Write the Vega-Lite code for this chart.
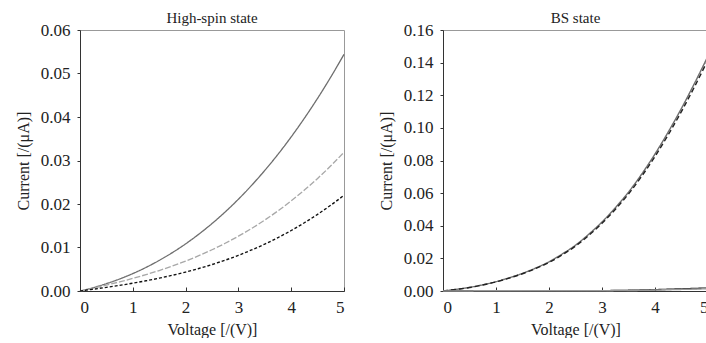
{
  "$schema": "https://vega.github.io/schema/vega-lite/v6.json",
  "background": "white",
  "padding": {"left": 14, "top": 10, "right": 0, "bottom": 0},
  "spacing": 29,
  "config": {
    "font": "Liberation Serif",
    "view": {"stroke": "#999", "strokeWidth": 1},
    "axis": {
      "grid": false,
      "domainColor": "#333",
      "tickColor": "#333",
      "labelFont": "Liberation Serif",
      "labelFontSize": 17,
      "labelColor": "#222",
      "titleFont": "Liberation Serif",
      "titleFontSize": 16,
      "titleFontWeight": "normal",
      "titleColor": "#222"
    },
    "axisY": {"tickSize": 3, "labelPadding": 7, "titlePadding": 9},
    "axisX": {"tickSize": -4, "labelPadding": 12, "titlePadding": 6},
    "title": {"font": "Liberation Serif", "fontSize": 15, "fontWeight": "normal", "color": "#222", "offset": -5, "frame": "group"}
  },
  "data": {"values": [
    {"panel": "HS", "series": "a", "V": 0, "I": 0},
    {"panel": "HS", "series": "a", "V": 0.25, "I": 0.00077},
    {"panel": "HS", "series": "a", "V": 0.5, "I": 0.00169},
    {"panel": "HS", "series": "a", "V": 0.75, "I": 0.00276},
    {"panel": "HS", "series": "a", "V": 1, "I": 0.0040},
    {"panel": "HS", "series": "a", "V": 1.25, "I": 0.00542},
    {"panel": "HS", "series": "a", "V": 1.5, "I": 0.00703},
    {"panel": "HS", "series": "a", "V": 1.75, "I": 0.00883},
    {"panel": "HS", "series": "a", "V": 2, "I": 0.01083},
    {"panel": "HS", "series": "a", "V": 2.25, "I": 0.01306},
    {"panel": "HS", "series": "a", "V": 2.5, "I": 0.0155},
    {"panel": "HS", "series": "a", "V": 2.75, "I": 0.01818},
    {"panel": "HS", "series": "a", "V": 3, "I": 0.0211},
    {"panel": "HS", "series": "a", "V": 3.25, "I": 0.02428},
    {"panel": "HS", "series": "a", "V": 3.5, "I": 0.02772},
    {"panel": "HS", "series": "a", "V": 3.75, "I": 0.03143},
    {"panel": "HS", "series": "a", "V": 4, "I": 0.03543},
    {"panel": "HS", "series": "a", "V": 4.25, "I": 0.03972},
    {"panel": "HS", "series": "a", "V": 4.5, "I": 0.0443},
    {"panel": "HS", "series": "a", "V": 4.75, "I": 0.04919},
    {"panel": "HS", "series": "a", "V": 5, "I": 0.0544},
    {"panel": "HS", "series": "b", "V": 0, "I": 0},
    {"panel": "HS", "series": "b", "V": 0.25, "I": 0.00066},
    {"panel": "HS", "series": "b", "V": 0.5, "I": 0.00136},
    {"panel": "HS", "series": "b", "V": 0.75, "I": 0.0021},
    {"panel": "HS", "series": "b", "V": 1, "I": 0.0029},
    {"panel": "HS", "series": "b", "V": 1.25, "I": 0.00377},
    {"panel": "HS", "series": "b", "V": 1.5, "I": 0.00471},
    {"panel": "HS", "series": "b", "V": 1.75, "I": 0.00575},
    {"panel": "HS", "series": "b", "V": 2, "I": 0.00688},
    {"panel": "HS", "series": "b", "V": 2.25, "I": 0.00812},
    {"panel": "HS", "series": "b", "V": 2.5, "I": 0.00948},
    {"panel": "HS", "series": "b", "V": 2.75, "I": 0.01097},
    {"panel": "HS", "series": "b", "V": 3, "I": 0.0126},
    {"panel": "HS", "series": "b", "V": 3.25, "I": 0.01438},
    {"panel": "HS", "series": "b", "V": 3.5, "I": 0.01632},
    {"panel": "HS", "series": "b", "V": 3.75, "I": 0.01843},
    {"panel": "HS", "series": "b", "V": 4, "I": 0.02072},
    {"panel": "HS", "series": "b", "V": 4.25, "I": 0.0232},
    {"panel": "HS", "series": "b", "V": 4.5, "I": 0.02588},
    {"panel": "HS", "series": "b", "V": 4.75, "I": 0.02878},
    {"panel": "HS", "series": "b", "V": 5, "I": 0.0319},
    {"panel": "HS", "series": "c", "V": 0, "I": 0},
    {"panel": "HS", "series": "c", "V": 0.25, "I": 0.00041},
    {"panel": "HS", "series": "c", "V": 0.5, "I": 0.00084},
    {"panel": "HS", "series": "c", "V": 0.75, "I": 0.0013},
    {"panel": "HS", "series": "c", "V": 1, "I": 0.0018},
    {"panel": "HS", "series": "c", "V": 1.25, "I": 0.00235},
    {"panel": "HS", "series": "c", "V": 1.5, "I": 0.00295},
    {"panel": "HS", "series": "c", "V": 1.75, "I": 0.00362},
    {"panel": "HS", "series": "c", "V": 2, "I": 0.00435},
    {"panel": "HS", "series": "c", "V": 2.25, "I": 0.00517},
    {"panel": "HS", "series": "c", "V": 2.5, "I": 0.00608},
    {"panel": "HS", "series": "c", "V": 2.75, "I": 0.00709},
    {"panel": "HS", "series": "c", "V": 3, "I": 0.0082},
    {"panel": "HS", "series": "c", "V": 3.25, "I": 0.00944},
    {"panel": "HS", "series": "c", "V": 3.5, "I": 0.01079},
    {"panel": "HS", "series": "c", "V": 3.75, "I": 0.01228},
    {"panel": "HS", "series": "c", "V": 4, "I": 0.01391},
    {"panel": "HS", "series": "c", "V": 4.25, "I": 0.01569},
    {"panel": "HS", "series": "c", "V": 4.5, "I": 0.01763},
    {"panel": "HS", "series": "c", "V": 4.75, "I": 0.01973},
    {"panel": "HS", "series": "c", "V": 5, "I": 0.0220},
    {"panel": "BS", "series": "d", "V": 0, "I": 0},
    {"panel": "BS", "series": "d", "V": 0.25, "I": 0.0010},
    {"panel": "BS", "series": "d", "V": 0.5, "I": 0.0022},
    {"panel": "BS", "series": "d", "V": 0.75, "I": 0.0038},
    {"panel": "BS", "series": "d", "V": 1, "I": 0.0057},
    {"panel": "BS", "series": "d", "V": 1.25, "I": 0.0081},
    {"panel": "BS", "series": "d", "V": 1.5, "I": 0.0108},
    {"panel": "BS", "series": "d", "V": 1.75, "I": 0.0141},
    {"panel": "BS", "series": "d", "V": 2, "I": 0.0179},
    {"panel": "BS", "series": "d", "V": 2.25, "I": 0.0227},
    {"panel": "BS", "series": "d", "V": 2.5, "I": 0.0281},
    {"panel": "BS", "series": "d", "V": 2.75, "I": 0.0348},
    {"panel": "BS", "series": "d", "V": 3, "I": 0.0423},
    {"panel": "BS", "series": "d", "V": 3.25, "I": 0.0510},
    {"panel": "BS", "series": "d", "V": 3.5, "I": 0.0606},
    {"panel": "BS", "series": "d", "V": 3.75, "I": 0.0717},
    {"panel": "BS", "series": "d", "V": 4, "I": 0.0840},
    {"panel": "BS", "series": "d", "V": 4.25, "I": 0.0975},
    {"panel": "BS", "series": "d", "V": 4.5, "I": 0.1120},
    {"panel": "BS", "series": "d", "V": 4.75, "I": 0.1276},
    {"panel": "BS", "series": "d", "V": 5, "I": 0.1440},
    {"panel": "BS", "series": "e", "V": 0, "I": 0},
    {"panel": "BS", "series": "e", "V": 0.25, "I": 0.0010},
    {"panel": "BS", "series": "e", "V": 0.5, "I": 0.0021},
    {"panel": "BS", "series": "e", "V": 0.75, "I": 0.0037},
    {"panel": "BS", "series": "e", "V": 1, "I": 0.0056},
    {"panel": "BS", "series": "e", "V": 1.25, "I": 0.0079},
    {"panel": "BS", "series": "e", "V": 1.5, "I": 0.0106},
    {"panel": "BS", "series": "e", "V": 1.75, "I": 0.0138},
    {"panel": "BS", "series": "e", "V": 2, "I": 0.0175},
    {"panel": "BS", "series": "e", "V": 2.25, "I": 0.0222},
    {"panel": "BS", "series": "e", "V": 2.5, "I": 0.0275},
    {"panel": "BS", "series": "e", "V": 2.75, "I": 0.0341},
    {"panel": "BS", "series": "e", "V": 3, "I": 0.0415},
    {"panel": "BS", "series": "e", "V": 3.25, "I": 0.0500},
    {"panel": "BS", "series": "e", "V": 3.5, "I": 0.0595},
    {"panel": "BS", "series": "e", "V": 3.75, "I": 0.0704},
    {"panel": "BS", "series": "e", "V": 4, "I": 0.0825},
    {"panel": "BS", "series": "e", "V": 4.25, "I": 0.0958},
    {"panel": "BS", "series": "e", "V": 4.5, "I": 0.1101},
    {"panel": "BS", "series": "e", "V": 4.75, "I": 0.1255},
    {"panel": "BS", "series": "e", "V": 5, "I": 0.1418},
    {"panel": "BS", "series": "f", "V": 0, "I": 0},
    {"panel": "BS", "series": "f", "V": 1, "I": 0.0001},
    {"panel": "BS", "series": "f", "V": 2, "I": 0.0001},
    {"panel": "BS", "series": "f", "V": 3, "I": 0.0002},
    {"panel": "BS", "series": "f", "V": 3.5, "I": 0.0004},
    {"panel": "BS", "series": "f", "V": 4, "I": 0.0008},
    {"panel": "BS", "series": "f", "V": 4.5, "I": 0.0013},
    {"panel": "BS", "series": "f", "V": 5, "I": 0.0018},
    {"panel": "BS", "series": "g", "V": 0, "I": 0},
    {"panel": "BS", "series": "g", "V": 1, "I": 0.0001},
    {"panel": "BS", "series": "g", "V": 2, "I": 0.0001},
    {"panel": "BS", "series": "g", "V": 3, "I": 0.0002},
    {"panel": "BS", "series": "g", "V": 3.5, "I": 0.0003},
    {"panel": "BS", "series": "g", "V": 4, "I": 0.0006},
    {"panel": "BS", "series": "g", "V": 4.5, "I": 0.0010},
    {"panel": "BS", "series": "g", "V": 5, "I": 0.0014}
  ]},
  "resolve": {"scale": {"color": "shared", "strokeDash": "shared", "strokeWidth": "shared"}},
  "hconcat": [
    {
      "width": 264,
      "height": 261,
      "title": "High-spin state",
      "transform": [{"filter": "datum.panel === 'HS'"}],
      "mark": {"type": "line", "interpolate": "monotone"},
      "encoding": {
        "x": {"field": "V", "type": "quantitative", "scale": {"domain": [0, 5], "nice": false}, "axis": {"values": [0, 1, 2, 3, 4, 5], "title": "Voltage [/(V)]"}},
        "y": {"field": "I", "type": "quantitative", "scale": {"domain": [0, 0.06], "nice": false}, "axis": {"values": [0, 0.01, 0.02, 0.03, 0.04, 0.05, 0.06], "format": ".2f", "title": "Current [/(μA)]"}},
        "detail": {"field": "series"},
        "color": {"field": "series", "type": "nominal", "legend": null, "scale": {"domain": ["a", "b", "c", "d", "e", "f", "g"], "range": ["#6e6e6e", "#a8a8a8", "#111111", "#6e6e6e", "#222222", "#111111", "#999999"]}},
        "strokeDash": {"field": "series", "type": "nominal", "legend": null, "scale": {"domain": ["a", "b", "c", "d", "e", "f", "g"], "range": [[1, 0], [6, 2], [3, 2], [1, 0], [5, 3], [1, 0], [1, 0]]}},
        "strokeWidth": {"field": "series", "type": "nominal", "legend": null, "scale": {"domain": ["a", "b", "c", "d", "e", "f", "g"], "range": [1.3, 1.5, 2.8, 1.5, 2, 1.5, 1.2]}}
      }
    },
    {
      "width": 265,
      "height": 261,
      "title": "BS state",
      "transform": [{"filter": "datum.panel === 'BS'"}],
      "mark": {"type": "line", "interpolate": "monotone"},
      "encoding": {
        "x": {"field": "V", "type": "quantitative", "scale": {"domain": [0, 5], "nice": false}, "axis": {"values": [0, 1, 2, 3, 4, 5], "title": "Voltage [/(V)]"}},
        "y": {"field": "I", "type": "quantitative", "scale": {"domain": [0, 0.16], "nice": false}, "axis": {"values": [0, 0.02, 0.04, 0.06, 0.08, 0.1, 0.12, 0.14, 0.16], "format": ".2f", "title": "Current [/(μA)]"}},
        "detail": {"field": "series"},
        "color": {"field": "series", "type": "nominal", "legend": null, "scale": {"domain": ["a", "b", "c", "d", "e", "f", "g"], "range": ["#6e6e6e", "#a8a8a8", "#111111", "#6e6e6e", "#222222", "#111111", "#999999"]}},
        "strokeDash": {"field": "series", "type": "nominal", "legend": null, "scale": {"domain": ["a", "b", "c", "d", "e", "f", "g"], "range": [[1, 0], [6, 2], [3, 2], [1, 0], [5, 3], [1, 0], [1, 0]]}},
        "strokeWidth": {"field": "series", "type": "nominal", "legend": null, "scale": {"domain": ["a", "b", "c", "d", "e", "f", "g"], "range": [1.3, 1.5, 2.8, 1.5, 2, 1.5, 1.2]}}
      }
    }
  ]
}
